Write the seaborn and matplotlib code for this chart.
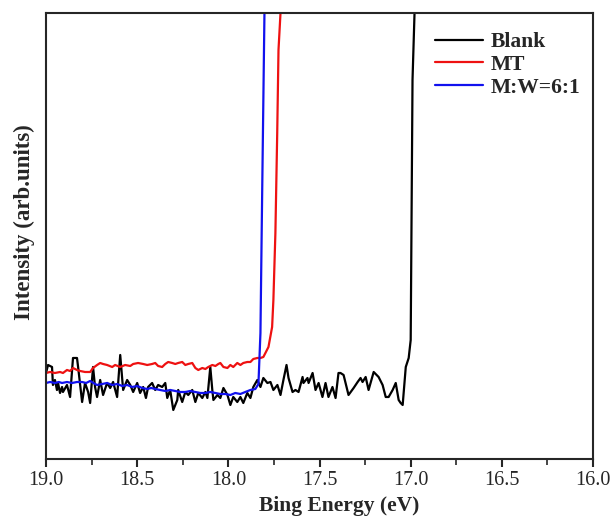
"""UPS cutoff region: Blank vs MT vs M:W=6:1."""
import matplotlib
matplotlib.use("Agg")
import matplotlib.pyplot as plt
from matplotlib.ticker import MultipleLocator
import pandas as pd
import seaborn as sns

# binding energy (eV) / intensity (arb. units)
blank_energy = [
    19.000, 18.989, 18.967, 18.962, 18.951, 18.940, 18.934, 18.923, 18.912, 18.907,
    18.885, 18.868, 18.852, 18.830, 18.824, 18.802, 18.786, 18.769, 18.758, 18.742,
    18.731, 18.720, 18.703, 18.687, 18.665, 18.648, 18.632, 18.610, 18.593, 18.577,
    18.555, 18.538, 18.522, 18.500, 18.484, 18.467, 18.452, 18.440, 18.418, 18.401,
    18.385, 18.363, 18.346, 18.335, 18.319, 18.302, 18.280, 18.275, 18.253, 18.236,
    18.220, 18.198, 18.181, 18.165, 18.143, 18.126, 18.115, 18.099, 18.088, 18.082,
    18.060, 18.044, 18.027, 18.005, 17.989, 17.973, 17.951, 17.934, 17.918, 17.896,
    17.879, 17.863, 17.841, 17.824, 17.808, 17.786, 17.769, 17.753, 17.731, 17.714,
    17.698, 17.681, 17.670, 17.648, 17.632, 17.615, 17.593, 17.588, 17.566, 17.560,
    17.538, 17.522, 17.505, 17.484, 17.467, 17.451, 17.429, 17.412, 17.396, 17.385,
    17.368, 17.341, 17.313, 17.291, 17.275, 17.264, 17.247, 17.231, 17.203, 17.176,
    17.154, 17.137, 17.121, 17.099, 17.082, 17.066, 17.055, 17.044, 17.027, 17.011,
    17.000, 16.990, 16.975,
]
blank_intensity = [
    86, 94, 92, 74, 79, 69, 76, 66, 72, 67,
    74, 62, 101, 101, 92, 57, 76, 67, 56, 92,
    72, 62, 79, 64, 76, 71, 77, 62, 104, 69,
    79, 74, 67, 76, 66, 72, 61, 72, 76, 69,
    74, 72, 76, 61, 69, 49, 59, 69, 57, 67,
    64, 69, 57, 66, 61, 67, 61, 92, 69, 59,
    64, 61, 71, 64, 54, 62, 57, 62, 56, 66,
    61, 72, 79, 72, 81, 76, 77, 69, 74, 64,
    79, 94, 81, 67, 69, 67, 82, 76, 81, 76,
    86, 69, 76, 62, 76, 62, 72, 61, 86, 86,
    84, 64, 71, 77, 81, 77, 82, 69, 87, 82,
    74, 62, 62, 69, 76, 59, 56, 54, 92, 101,
    119, 379, 470,
]

mt_energy = [
    19.000, 18.978, 18.951, 18.923, 18.907, 18.885, 18.868, 18.852, 18.830, 18.813,
    18.786, 18.758, 18.742, 18.720, 18.703, 18.687, 18.665, 18.637, 18.621, 18.593,
    18.566, 18.538, 18.522, 18.495, 18.467, 18.445, 18.418, 18.401, 18.385, 18.363,
    18.346, 18.330, 18.308, 18.291, 18.275, 18.253, 18.236, 18.220, 18.198, 18.181,
    18.165, 18.143, 18.126, 18.110, 18.088, 18.071, 18.055, 18.044, 18.027, 18.005,
    17.989, 17.973, 17.951, 17.934, 17.918, 17.896, 17.879, 17.863, 17.841, 17.824,
    17.808, 17.780, 17.760, 17.753, 17.742, 17.732, 17.725, 17.714, 17.703,
]
mt_intensity = [
    86, 87, 86, 87, 86, 89, 88, 91, 89, 88,
    87, 87, 91, 94, 96, 95, 94, 92, 94, 92,
    94, 93, 95, 96, 95, 94, 95, 96, 93, 92,
    95, 97, 96, 95, 96, 97, 94, 95, 96, 91,
    89, 91, 90, 92, 94, 93, 95, 96, 92, 91,
    94, 92, 96, 94, 96, 97, 97, 100, 101, 101,
    102, 112, 132, 159, 226, 326, 409, 446, 480,
]

mw_energy = [
    19.000, 18.978, 18.951, 18.930, 18.912, 18.885, 18.857, 18.830, 18.802, 18.780,
    18.758, 18.740, 18.720, 18.692, 18.665, 18.637, 18.610, 18.582, 18.555, 18.528,
    18.500, 18.472, 18.445, 18.423, 18.401, 18.374, 18.346, 18.319, 18.291, 18.264,
    18.236, 18.209, 18.181, 18.154, 18.126, 18.099, 18.071, 18.044, 18.016, 17.989,
    17.962, 17.934, 17.907, 17.879, 17.852, 17.835, 17.824, 17.815, 17.802, 17.797,
]
mw_intensity = [
    76, 77, 76, 77, 76, 77, 76, 77, 77, 76,
    78, 76, 74, 75, 76, 74, 75, 73, 74, 72,
    73, 71, 70, 71, 70, 69, 68, 69, 68, 67,
    67, 68, 67, 66, 66, 67, 66, 65, 65, 64,
    66, 65, 67, 69, 70, 75, 126, 259, 446, 479,
]

sns.set_style("ticks")
plt.rcParams["font.family"] = ["Liberation Serif", "DejaVu Serif"]
plt.rcParams["axes.linewidth"] = 1.5

series = [
    ("Blank", blank_energy, blank_intensity, "#000000"),
    ("MT", mt_energy, mt_intensity, "#ee1111"),
    ("M:W=6:1", mw_energy, mw_intensity, "#1111ee"),
]

fig = plt.figure(figsize=(6.11, 5.17), dpi=100)
ax = fig.add_axes([0.0753, 0.1122, 0.8953, 0.8627])

for label, energy, intensity, color in series:
    df = pd.DataFrame({"energy": energy, "intensity": intensity})
    sns.lineplot(data=df, x="energy", y="intensity", ax=ax, color=color,
                 linewidth=1.6, label=label, sort=False, estimator=None)

ax.set_xlim(19.0, 16.0)
ax.set_ylim(0, 446)
ax.xaxis.set_major_locator(MultipleLocator(0.5))
ax.xaxis.set_minor_locator(MultipleLocator(0.25))
ax.xaxis.set_major_formatter(matplotlib.ticker.FormatStrFormatter("%.1f"))
ax.set_yticks([])
ax.tick_params(axis="x", which="major", length=6, width=1.5, labelsize=14.5, pad=3)
ax.tick_params(axis="x", which="minor", length=4, width=1.2)

ax.set_xlabel("Bing Energy (eV)", fontsize=15.5, fontweight="bold", labelpad=4)
ax.set_ylabel("Intensity (arb.units)", fontsize=16.5, fontweight="bold", labelpad=8)
ax.xaxis.label.set_x(0.536)
ax.yaxis.label.set_y(0.53)

ax.legend(loc="upper right", bbox_to_anchor=(0.996, 0.981), frameon=False,
          handlelength=2.2, handletextpad=0.35, labelspacing=0.12,
          borderaxespad=0.1, prop={"weight": "bold", "size": 15.5})

fig.savefig("out.png", dpi=100)
plt.close(fig)
